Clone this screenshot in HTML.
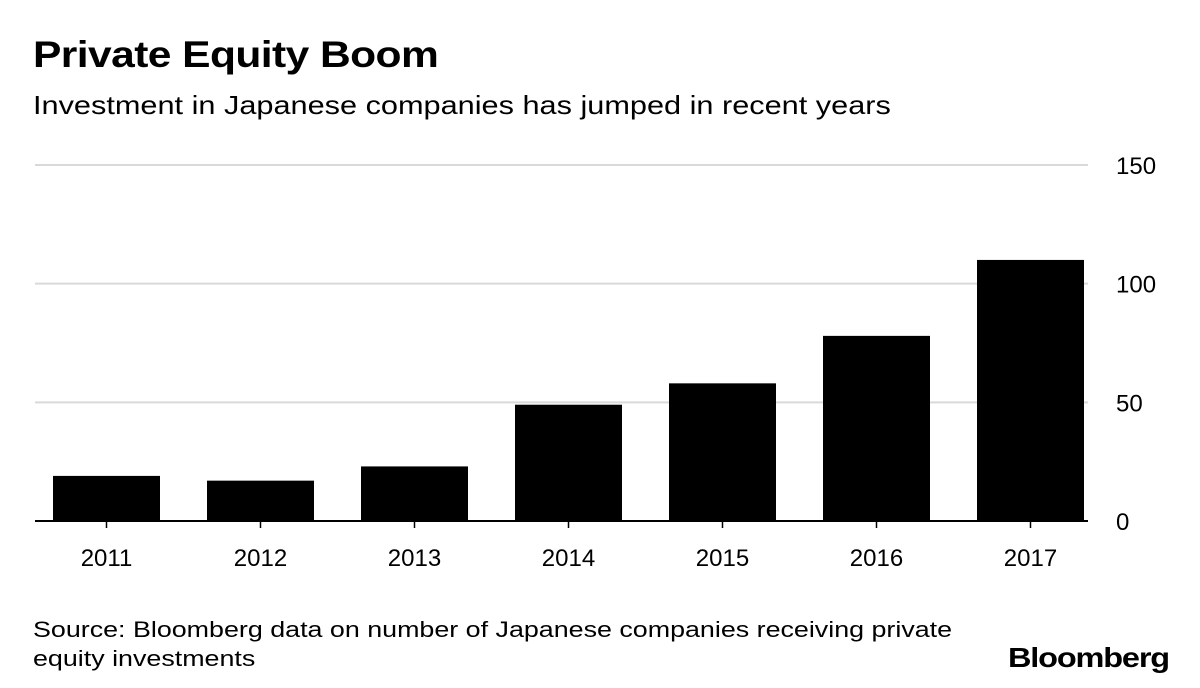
<!DOCTYPE html>
<html><head><meta charset="utf-8"><style>
body{margin:0;width:1200px;height:688px;background:#fff;font-family:"Liberation Sans",sans-serif;overflow:hidden;position:relative}
.t{position:absolute;white-space:nowrap;color:#000;transform-origin:0 0}
</style></head><body>
<div class="t" style="left:33px;top:34px;font-size:37px;font-weight:bold;letter-spacing:-0.5px;transform:scaleX(1.15)">Private Equity Boom</div>
<div class="t" style="left:33px;top:90px;font-size:26px;transform:scaleX(1.18)">Investment in Japanese companies has jumped in recent years</div>
<svg id="c" width="1200" height="600" style="position:absolute;left:0;top:0"></svg>
<div class="t" style="left:33px;top:615px;font-size:22px;line-height:29px;transform:scaleX(1.22)">Source: Bloomberg data on number of Japanese companies receiving private<br>equity investments</div>
<div class="t" style="left:1008px;top:642px;font-size:28px;font-weight:bold;letter-spacing:-1px;transform:scaleX(1.16)">Bloomberg</div>
<script>
const categories=["2011","2012","2013","2014","2015","2016","2017"];
const values=[19,17,23,49,58,78,110];
const ticks=[0,50,100,150];
const svg=document.getElementById('c');const NS='http://www.w3.org/2000/svg';
const y=v=>521-v*(356/150);
const x=i=>53+i*154;const bw=107;
function mk(t,a){const e=document.createElementNS(NS,t);for(const k in a)e.setAttribute(k,a[k]);svg.appendChild(e);return e;}
ticks.forEach(t=>{
 if(t>0){const l=mk('line',{x1:35,x2:1088,y1:y(t),y2:y(t),stroke:'#d9d9d9','stroke-width':2});
 
 }
 const tx=mk('text',{x:1116,y:y(t)+9,'font-size':24,'font-family':'Liberation Sans, sans-serif'});tx.textContent=t;
 
 
});
values.forEach((v,i)=>{
 const r=mk('rect',{x:x(i),y:y(v),width:bw,height:521-y(v),fill:'#000'});
 
 
 const tk=mk('line',{x1:x(i)+bw/2,x2:x(i)+bw/2,y1:521,y2:528,stroke:'#000','stroke-width':1.5});
 
 
 const t=mk('text',{x:x(i)+bw/2,y:566,'text-anchor':'middle','font-size':24,'font-family':'Liberation Sans, sans-serif'});t.textContent=categories[i];
 
 
});
const b=mk('line',{x1:35,x2:1088,y1:521,y2:521,stroke:'#000','stroke-width':2});


</script>
</body></html>
